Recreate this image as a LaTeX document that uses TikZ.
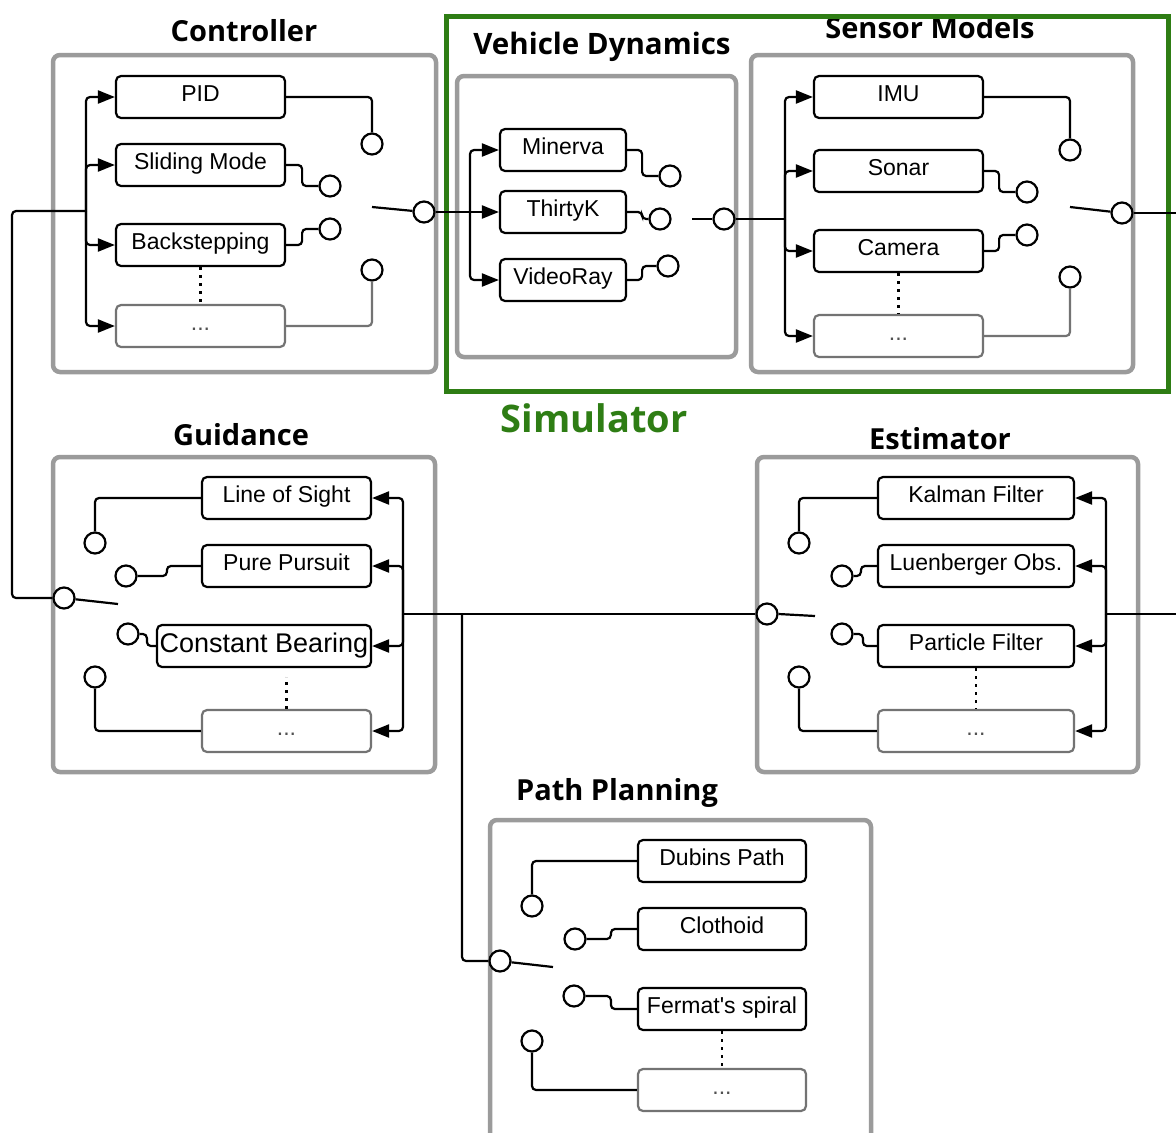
\documentclass[tikz,border=0pt]{standalone}
\usepackage{fontspec}
\setmainfont{Liberation Sans}
\newfontfamily\boxfont{Liberation Sans}
\newfontfamily\titlefont{Open Sans}
\usetikzlibrary{arrows.meta}
\definecolor{simgreen}{RGB}{46,125,20}
\definecolor{grpgray}{RGB}{155,155,155}
\definecolor{dotgray}{RGB}{115,115,115}
\begin{document}
\begin{tikzpicture}[x=1pt,y=-1pt,
 mod/.style={draw, line width=2.2pt, rounded corners=5pt, minimum width=169pt, minimum height=42pt, inner sep=0pt, font=\boxfont\fontsize{23}{26}\selectfont, text height=16pt, text depth=7pt, fill=white},
 moddots/.style={mod, draw=dotgray, text=dotgray!70!black},
 port/.style={circle, draw, line width=2.2pt, minimum size=21pt, inner sep=0pt, fill=white},
 group/.style={draw=grpgray, line width=4.5pt, rounded corners=7pt, inner sep=0pt},
 wire/.style={line width=2.2pt, rounded corners=4pt},
 greywire/.style={wire, draw=dotgray},
 arr/.style={wire, -{Triangle[length=17pt,width=13pt]}},
 title/.style={font=\titlefont\bfseries\fontsize{29}{32}\selectfont, inner sep=0pt},
 dotline/.style={line width=2.5pt, dash pattern=on 2.5pt off 5.5pt},
]
\useasboundingbox (0,0) rectangle (1176,1133);
\clip (0,0) rectangle (1176,1133);

% ---------------- group frames
\node[group, minimum width=383pt, minimum height=317pt] (ctrlbox) at (244.5,213.5) {};
\node[group, minimum width=279pt, minimum height=281pt] (vdbox) at (596.5,216.5) {};
\node[group, minimum width=382pt, minimum height=317pt] (smbox) at (942,213.5) {};
\node[group, minimum width=382pt, minimum height=315pt] (gdbox) at (244,614.5) {};
\node[group, minimum width=381pt, minimum height=315pt] (esbox) at (947.5,614.5) {};
\node[group, minimum width=381pt, minimum height=340pt] (ppbox) at (680.5,990) {};

% ---------------- titles
\node[title] (tctrl) at (244,31) {Controller};
\node[title, font=\titlefont\bfseries\fontsize{29.5}{32}\selectfont] (tvd) at (602,47) {Vehicle Dynamics};
\node[title] (tsm) at (930,28) {Sensor Models};
\node[title] (tgd) at (241,435) {Guidance};
\node[title] (tes) at (940,439) {Estimator};
\node[title] (tpp) at (617,793) {Path Planning};
\node[title, text=simgreen, font=\titlefont\bfseries\fontsize{38}{40}\selectfont] (tsim) at (594,418) {Simulator};

% simulator frame
\node[draw=simgreen, line width=5pt, minimum width=722pt, minimum height=375pt, inner sep=0pt] (simbox) at (807,203.5) {};

% ================= Controller
\node[mod] (pid) at (200.5,97) {PID};
\node[mod] (sm) at (200.5,165) {Sliding Mode};
\node[mod] (bs) at (200.5,245) {Backstepping};
\node[moddots] (cdots) at (200.5,326) {...};
\node[port] (cp1) at (372,144) {};
\node[port] (cp2) at (330,186) {};
\node[port] (cp3) at (330,229) {};
\node[port] (cp4) at (372,270) {};
\node[port] (cout) at (424,212) {};
\coordinate (cbus) at (86,211);
\coordinate (carm) at (372,207);
\draw[arr] (cbus) |- (pid.west);
\draw[arr] (cbus) |- (sm.west);
\draw[arr] (cbus) |- (bs.west);
\draw[arr] (cbus) |- (cdots.west);
\draw[wire] (pid.east) -| (cp1.north);
\draw[wire] (sm.east) -- ++(16,0) |- (cp2.west);
\draw[wire] (bs.east) -- ++(16,0) |- (cp3.west);
\draw[greywire] (cdots.east) -| (cp4.south);
\draw[wire] (carm) -- (cout);
\draw[dotline] (bs.south) -- (cdots.north);

% ================= Vehicle Dynamics
\node[mod, minimum width=126pt] (min) at (563,150) {Minerva};
\node[mod, minimum width=126pt] (thk) at (563,212) {ThirtyK};
\node[mod, minimum width=126pt] (vr) at (563,280) {VideoRay};
\node[port] (vp1) at (670,176) {};
\node[port] (vp2) at (660,219) {};
\node[port] (vp3) at (668,266) {};
\node[port] (vout) at (724,219) {};
\coordinate (vbus) at (470,212);
\coordinate (varm) at (692,219);
\draw[wire] (cout.east) -- (vbus);
\draw[arr] (vbus) |- (min.west);
\draw[arr] (vbus) -- (thk.west);
\draw[arr] (vbus) |- (vr.west);
\draw[wire] (min.east) -- ++(15,0) |- (vp1.west);
\draw[wire] (thk.east) -- ++(15,0) |- (vp2.west);
\draw[wire] (vr.east) -- ++(15,0) |- (vp3.west);
\draw[wire] (varm) -- (vout.west);

% ================= Sensor Models
\node[mod] (imu) at (898.5,97) {IMU};
\node[mod] (sonar) at (898.5,171) {Sonar};
\node[mod] (cam) at (898.5,251) {Camera};
\node[moddots] (sdots) at (898.5,336) {...};
\node[port] (sp1) at (1070,150) {};
\node[port] (sp2) at (1027,192) {};
\node[port] (sp3) at (1027,235) {};
\node[port] (sp4) at (1070,277) {};
\node[port] (sout) at (1122,213) {};
\coordinate (sbus) at (785,219);
\coordinate (sarm) at (1070,207);
\coordinate (sright) at (1180,213);
\draw[wire] (vout.east) -- (sbus);
\draw[arr] (sbus) |- (imu.west);
\draw[arr] (sbus) |- (sonar.west);
\draw[arr] (sbus) |- (cam.west);
\draw[arr] (sbus) |- (sdots.west);
\draw[wire] (imu.east) -| (sp1.north);
\draw[wire] (sonar.east) -- ++(15,0) |- (sp2.west);
\draw[wire] (cam.east) -- ++(15,0) |- (sp3.west);
\draw[greywire] (sdots.east) -| (sp4.south);
\draw[wire] (sarm) -- (sout);
\draw[wire] (sout.east) -- (sright);
\draw[dotline] (cam.south) -- (sdots.north);

% ================= Guidance
\node[mod] (los) at (286.5,498) {Line of Sight};
\node[mod] (pp) at (286.5,566) {Pure Pursuit};
\node[mod, minimum width=214pt, font=\boxfont\fontsize{27}{30}\selectfont, text height=19pt, text depth=6pt] (cb) at (264,646) {Constant Bearing};
\node[moddots] (gdots) at (286.5,731) {...};
\node[port] (gp1) at (95,543) {};
\node[port] (gp2) at (126,576) {};
\node[port] (gp3) at (128,634) {};
\node[port] (gp4) at (95,677) {};
\node[port] (gsw) at (64,598) {};
\coordinate (gbus) at (403,614);
\coordinate (garm) at (118,604);
\draw[arr] (gbus) |- (los.east);
\draw[arr] (gbus) |- (pp.east);
\draw[arr] (gbus) |- (cb.east);
\draw[arr] (gbus) |- (gdots.east);
\draw[wire] (los.west) -| (gp1.north);
\draw[wire] (pp.west) -- ++(-34,0) |- (gp2.east);
\draw[wire] (cb.west) -- ++(-9,0) |- (gp3.east);
\draw[wire] (gdots.west) -| (gp4.south);
\draw[wire] (garm) -- (gsw);
\draw[dotline] (gdots.north) -- ++(0,-32);
% controller input from guidance switch
\draw[wire] (gsw.west) -| (12,211) -- (cbus);

% ================= Estimator
\node[mod, minimum width=196pt] (kf) at (976,498) {Kalman Filter};
\node[mod, minimum width=196pt] (lo) at (976,566) {Luenberger Obs.};
\node[mod, minimum width=196pt] (pf) at (976,646) {Particle Filter};
\node[moddots, minimum width=196pt] (edots) at (976,731) {...};
\node[port] (ep1) at (799,543) {};
\node[port] (ep2) at (842,576) {};
\node[port] (ep3) at (842,634) {};
\node[port] (ep4) at (799,677) {};
\node[port] (esw) at (767,614) {};
\coordinate (ebus) at (1106,614);
\coordinate (earm) at (815,616);
\coordinate (eright) at (1180,614);
\draw[arr] (ebus) |- (kf.east);
\draw[arr] (ebus) |- (lo.east);
\draw[arr] (ebus) |- (pf.east);
\draw[arr] (ebus) |- (edots.east);
\draw[wire] (kf.west) -| (ep1.north);
\draw[wire] (lo.west) -- ++(-16,0) |- (ep2.east);
\draw[wire] (pf.west) -- ++(-14,0) |- (ep3.east);
\draw[wire] (edots.west) -| (ep4.south);
\draw[wire] (esw.east) -- (earm);
\draw[wire] (ebus) -- (eright);
\draw[dotline] (pf.south) -- (edots.north);
% guidance to estimator
\draw[wire] (gbus) -- (esw.west);

% ================= Path Planning
\node[mod, minimum width=168pt] (dp) at (722,861) {Dubins Path};
\node[mod, minimum width=168pt] (cl) at (722,929) {Clothoid};
\node[mod, minimum width=168pt] (fs) at (722,1009) {Fermat's spiral};
\node[moddots, minimum width=168pt] (pdots) at (722,1090) {...};
\node[port] (pp1) at (532,906) {};
\node[port] (pp2) at (575,939) {};
\node[port] (pp3) at (574,996) {};
\node[port] (pp4) at (532,1041) {};
\node[port] (psw) at (500,961) {};
\coordinate (parm) at (553,967);
\coordinate (tj) at (462,614);
\draw[wire] (dp.west) -| (pp1.north);
\draw[wire] (cl.west) -- ++(-26,0) |- (pp2.east);
\draw[wire] (fs.west) -- ++(-26,0) |- (pp3.east);
\draw[wire] (pdots.west) -| (pp4.south);
\draw[wire] (psw) -- (parm);
\draw[wire] (tj) |- (psw.west);
\draw[dotline] (fs.south) -- (pdots.north);
\end{tikzpicture}
\end{document}
